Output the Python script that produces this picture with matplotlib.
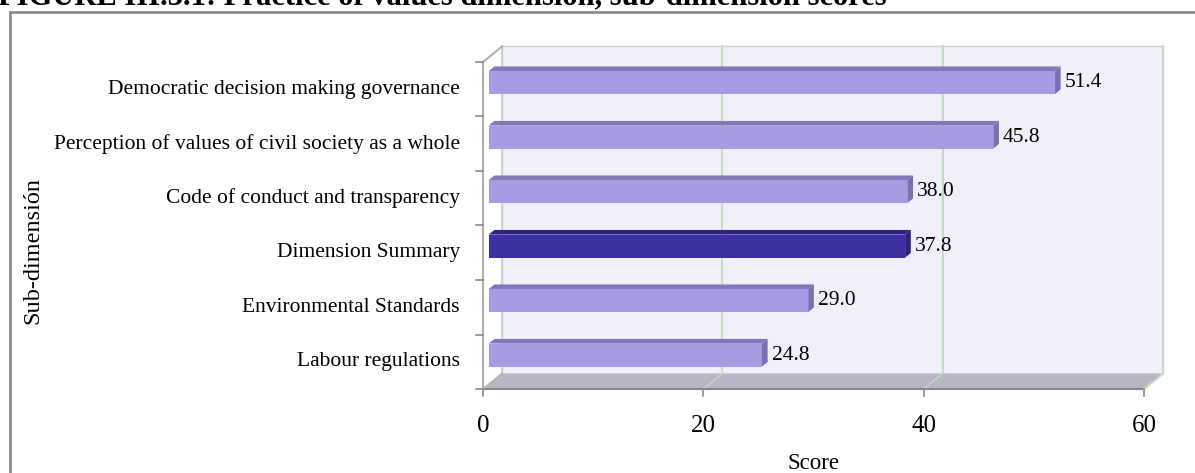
import matplotlib
matplotlib.use("Agg")
import matplotlib.pyplot as plt
from matplotlib.patches import Polygon, Rectangle
import numpy as np

plt.rcParams['font.family'] = ['Liberation Serif', 'DejaVu Serif']

# data, bottom to top
categories = ["Labour regulations", "Environmental Standards", "Dimension Summary",
              "Code of conduct and transparency",
              "Perception of values of civil society as a whole",
              "Democratic decision making governance"]
scores = [24.8, 29.0, 37.8, 38.0, 45.8, 51.4]
highlight = "Dimension Summary"
xticks = [0, 20, 40, 60]

W, H = 1195, 473
fig = plt.figure(figsize=(W / 100, H / 100), dpi=100)

# outer frame and (clipped) title
fig.patches.append(Rectangle((9.5 / W, -0.1), 1.2, 1 - 12.5 / H + 0.1, transform=fig.transFigure,
                             fill=False, edgecolor='#8c8c8c', linewidth=2))
fig.text(-2 / W, 1 - 4 / H, "FIGURE III.3.1: Practice of values dimension, sub-dimension scores",
         fontsize=22, fontweight='bold', ha='left', va='baseline')

# front plane of the pseudo-3D box
x0px, x1px, ytop, ybot = 483, 1144, 62, 389
ax = fig.add_axes([x0px / W, (H - ybot) / H, (x1px - x0px) / W, (ybot - ytop) / H])
xmax = 60
n = len(categories)
ax.set_xlim(0, xmax)
ax.set_ylim(0, n)
ax.axis('off')

ux = (x1px - x0px) / xmax       # px per score unit
uy = (ybot - ytop) / n          # px per category
dx = 19 / ux                    # depth offset in data units
dy = 15.5 / uy

wall = '#f1effa'
floor = '#b9b6c3'
edge = '#b0b0b0'
grid = '#c3dcc3'

# back wall
ax.add_patch(Polygon([(dx, dy), (xmax + dx, dy), (xmax + dx, n + dy), (dx, n + dy)],
                     closed=True, facecolor=wall, edgecolor='#d0d0d8', linewidth=1, clip_on=False, zorder=1))
# floor
ax.add_patch(Polygon([(0, 0), (xmax, 0), (xmax + dx, dy), (dx, dy)], closed=True,
                     facecolor=floor, edgecolor='none', clip_on=False, zorder=2))
# left wall
ax.add_patch(Polygon([(0, 0), (dx, dy), (dx, n + dy), (0, n)], closed=True,
                     facecolor='white', edgecolor='none', clip_on=False, zorder=1.5))

# gridlines on back wall and floor
for t in xticks:
    ax.plot([t + dx, t + dx], [dy, n + dy], color=grid, lw=1.5, clip_on=False, zorder=1.8)
    ax.plot([t, t + dx], [0, dy], color=grid, lw=1, clip_on=False, zorder=2.5)

# axis lines and ticks
ax.plot([0, xmax], [0, 0], color='#888888', lw=1.5, clip_on=False, zorder=3)
ax.plot([0, 0], [0, n], color=edge, lw=1.5, clip_on=False, zorder=3)
ax.plot([0, dx], [n, n + dy], color=edge, lw=1.5, clip_on=False, zorder=3)
ax.plot([0, dx], [0, dy], color=edge, lw=1, clip_on=False, zorder=3)
ax.plot([xmax, xmax + dx], [0, dy], color=grid, lw=1.5, clip_on=False, zorder=3)
tick_len_y = 7 / uy
tick_len_x = 7 / ux
for t in xticks:
    ax.plot([t, t], [0, -tick_len_y], color='#888888', lw=1.2, clip_on=False, zorder=3)
    ax.text(t, -37 / uy, str(t), ha='center', va='center', fontsize=18)
for i in range(n + 1):
    ax.plot([-tick_len_x, 0], [i, i], color='#888888', lw=1.2, clip_on=False, zorder=3)

# bars
bh = 23 / uy
f = 0.3
for i, (cat, v) in enumerate(zip(categories, scores)):
    if cat == highlight:
        front, top, side = '#3c31a3', '#2c2480', '#2c2480'
    else:
        front, top, side = '#a59ce3', '#8078b8', '#7a70b0'
    bx, by = f * dx, i + 0.5 - bh / 2 + f * dy + 2 / uy
    ddx, ddy = f * dx, f * dy
    ax.add_patch(Polygon([(bx, by + bh), (bx + v, by + bh), (bx + v + ddx, by + bh + ddy),
                          (bx + ddx, by + bh + ddy)], closed=True, facecolor=top,
                         edgecolor='none', clip_on=False, zorder=4))
    ax.add_patch(Polygon([(bx + v, by), (bx + v + ddx, by + ddy), (bx + v + ddx, by + bh + ddy),
                          (bx + v, by + bh)], closed=True, facecolor=side,
                         edgecolor='none', clip_on=False, zorder=4))
    ax.add_patch(Rectangle((bx, by), v, bh, facecolor=front, edgecolor='none',
                           clip_on=False, zorder=5))
    ax.text(bx + v + ddx + 4 / ux, by + bh / 2, f"{v:.1f}", ha='left', va='center',
            fontsize=15.5, zorder=6)
    ax.text(-23 / ux, i + 0.5, cat, ha='right', va='center', fontsize=15.5)

ax.text(xmax / 2, -74 / uy, "Score", ha='center', va='center', fontsize=16.5)
fig.text(33 / W, 1 - 251 / H, "Sub-dimensión", rotation=90, ha='center', va='center', fontsize=17.5)

fig.savefig("out.png", dpi=100)
